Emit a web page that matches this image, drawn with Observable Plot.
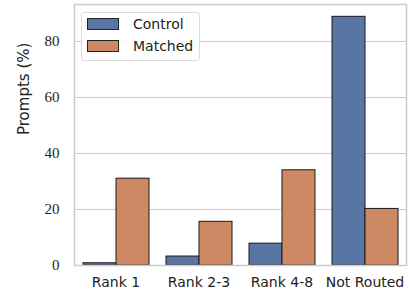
<!DOCTYPE html>
<html><head><meta charset="utf-8">
<script src="https://cdn.jsdelivr.net/npm/d3@7"></script>
<script src="https://cdn.jsdelivr.net/npm/@observablehq/plot@0.6"></script>
<style>
body{margin:0;background:#fff;}
#wrap{position:relative;width:409px;height:294px;}
#legend{position:absolute;left:81px;top:12px;width:117px;height:47px;border:1px solid #dcdcdc;border-radius:3px;background:rgba(255,255,255,0.85);font-family:"DejaVu Sans",sans-serif;font-size:14px;color:#222;}
.row{position:absolute;left:5px;display:flex;align-items:center;}
.sw{width:32px;height:12px;border:1px solid #222;box-sizing:border-box;margin-right:14px;}
</style></head><body>
<div id="wrap"><div id="chart"></div>
<div id="legend"></div></div>
<script>
const categories = ["Rank 1", "Rank 2-3", "Rank 4-8", "Not Routed"];
const series = ["Control", "Matched"];
const control = [0.8, 3.2, 7.8, 88.8];
const matched = [31.0, 15.6, 34.0, 20.2];
const colors = ["#5975a4", "#cc8963"];
const yTicks = [0, 20, 40, 60, 80];

const data = [];
categories.forEach((c, i) => {
  data.push({cat: c, s: "Control", v: control[i]});
  data.push({cat: c, s: "Matched", v: matched[i]});
});
const yMax = 93.2;

const plot = Plot.plot({
  width: 409, height: 294,
  marginLeft: 73, marginRight: 3, marginTop: 4, marginBottom: 29,
  style: {fontFamily: "DejaVu Sans, sans-serif", fontSize: "14px", color: "#222", background: "#fff"},
  fx: {domain: categories, padding: 0, label: null, axis: null},
  x: {domain: series, paddingInner: 0, paddingOuter: 0.25, axis: null},
  y: {domain: [0, yMax], axis: null},
  color: {domain: series, range: colors},
  marks: [
    Plot.ruleY(yTicks.filter(d => d > 0), {stroke: "#cccccc", strokeWidth: 1}),
    Plot.barY(data, {fx: "cat", x: "s", y: "v", fill: "s", stroke: "#1a1a1a", strokeWidth: 1}),
    Plot.ruleY([0, yMax], {stroke: "#cccccc", strokeWidth: 1.6}),
    Plot.frame({anchor: "left", facetAnchor: "left", stroke: "#cccccc", strokeWidth: 1.6}),
    Plot.frame({anchor: "right", facetAnchor: "right", stroke: "#cccccc", strokeWidth: 1.6}),
    Plot.axisFx({anchor: "bottom", tickSize: 0, tickPadding: 12, label: null, fontSize: 14}),
    Plot.text(yTicks, {y: d => d, text: d => String(d), frameAnchor: "left", textAnchor: "end", dx: -15, fontFamily: "Liberation Serif, serif", fontSize: 15, fill: "#222", facetAnchor: "left"}),
    Plot.text(["Prompts (%)"], {frameAnchor: "left", rotate: -90, dx: -50, fontSize: 15, facetAnchor: "left"})
  ]
});
document.getElementById("chart").appendChild(plot);

const leg = document.getElementById("legend");
series.forEach((s, i) => {
  const r = document.createElement("div");
  r.className = "row";
  r.style.top = (3 + i * 22) + "px";
  r.innerHTML = `<div class="sw" style="background:${colors[i]}"></div><span>${s}</span>`;
  leg.appendChild(r);
});
</script></body></html>
